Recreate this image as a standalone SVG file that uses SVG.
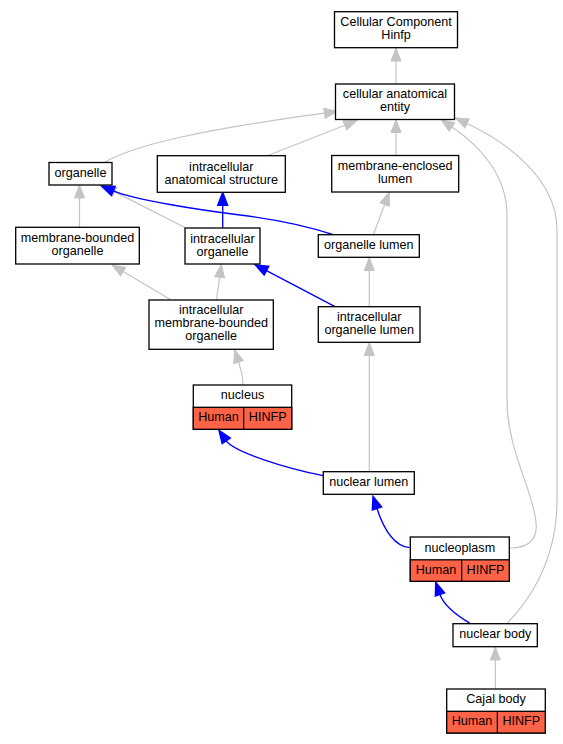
<svg xmlns="http://www.w3.org/2000/svg" width="563" height="744" viewBox="0 0 563 744">
<defs>
<style>
.n rect{fill:#fff;stroke:#000;stroke-width:1.3}
.n .t{fill:#ff6347}
.n line{stroke:#000;stroke-width:1.2}
text{font-family:"Liberation Sans",Arial,sans-serif;font-size:12.6px;fill:#000;text-anchor:middle}
.g{fill:none;stroke:#c4c4c4;stroke-width:1.2;marker-end:url(#ag)}
.b{fill:none;stroke:#0000ff;stroke-width:1.35;marker-end:url(#ab)}
</style>
<marker id="ag" markerUnits="userSpaceOnUse" markerWidth="16" markerHeight="14" refX="0" refY="5" orient="auto" overflow="visible"><path d="M0,0 L13,5 L0,10 Z" fill="#c4c4c4" stroke="#c4c4c4" stroke-width="1"/></marker>
<marker id="ab" markerUnits="userSpaceOnUse" markerWidth="16" markerHeight="14" refX="0" refY="5" orient="auto" overflow="visible"><path d="M0,0 L13,5 L0,10 Z" fill="#0000ff" stroke="#0000ff" stroke-width="1.3"/></marker>
</defs>
<rect width="563" height="744" fill="#fff"/>
<g id="edges">
<path class="g" d="M396,84 L396,61"/>
<path class="g" d="M105,162 C135,145 200,130 324.5,113.2"/>
<path class="g" d="M268,155.5 L344.9,125.3"/>
<path class="g" d="M396,155.3 L396,132.5"/>
<path class="g" d="M510,548 C528,548 538,540 536,522 C533,490 507,450 507,400 L507,215 C507,175 479.5,145.7 452,127"/>
<path class="g" d="M507,623.3 C525,605 557,565 557,500 L557,230 C557,178 505.5,141.7 467,123.5"/>
<path class="g" d="M79.5,227.3 L79.5,198"/>
<path class="g" d="M185,227.5 L114.6,191.9"/>
<path class="g" d="M373.3,234.7 L384.7,204.5"/>
<path class="g" d="M170.3,299.5 L123.2,271.6"/>
<path class="g" d="M216.5,300 L219.6,277.2"/>
<path class="g" d="M369.3,306.7 L369.3,270.5"/>
<path class="g" d="M243,385 C243,375 241,370 238.5,362"/>
<path class="g" d="M369.3,471.7 L369.3,355.5"/>
<path class="g" d="M495.3,689 L495.3,660"/>
<path class="b" d="M333.3,234.7 C310,227 280,220 240,215 C200,210 135,200 113.3,190.9"/>
<path class="b" d="M222.7,228 L222.7,205.3"/>
<path class="b" d="M335,306.7 L266.5,270.7"/>
<path class="b" d="M323.3,475.7 C285,468 234,452 226.3,440.9"/>
<path class="b" d="M409.3,547.7 C395,546 384,530 377,508.5"/>
<path class="b" d="M470,623.3 C456,615 444,606 440,594.5"/>
</g>
<g id="cc_hinfp" class="n"><rect x="334.5" y="11.7" width="123" height="36"/><text x="396" y="26">Cellular Component</text><text x="396" y="39">Hinfp</text></g>
<g id="cellular_anatomical_entity" class="n"><rect x="335.5" y="84" width="119" height="35.5"/><text x="395" y="98.3">cellular anatomical</text><text x="395" y="111.3">entity</text></g>
<g id="organelle" class="n"><rect x="49" y="162.5" width="63" height="22.5"/><text x="80.5" y="176.8">organelle</text></g>
<g id="intracellular_anatomical_structure" class="n"><rect x="157.3" y="155.7" width="128" height="36.6"/><text x="221.3" y="170.5">intracellular</text><text x="221.3" y="183.5">anatomical structure</text></g>
<g id="membrane_enclosed_lumen" class="n"><rect x="331.7" y="155.5" width="127" height="36.5"/><text x="395.2" y="170.3">membrane-enclosed</text><text x="395.2" y="183.3">lumen</text></g>
<g id="membrane_bounded_organelle" class="n"><rect x="15.7" y="227.3" width="123.6" height="36.7"/><text x="77.5" y="242.2">membrane-bounded</text><text x="77.5" y="255.2">organelle</text></g>
<g id="intracellular_organelle" class="n"><rect x="185" y="228" width="75" height="36"/><text x="222.5" y="242.5">intracellular</text><text x="222.5" y="255.5">organelle</text></g>
<g id="organelle_lumen" class="n"><rect x="318.3" y="234.7" width="101" height="22.6"/><text x="368.8" y="249">organelle lumen</text></g>
<g id="intracellular_membrane_bounded_organelle" class="n"><rect x="149" y="300" width="124.3" height="49.3"/><text x="211.2" y="314">intracellular</text><text x="211.2" y="327">membrane-bounded</text><text x="211.2" y="340">organelle</text></g>
<g id="intracellular_organelle_lumen" class="n"><rect x="318.3" y="306.7" width="101.7" height="35.6"/><text x="369.2" y="321">intracellular</text><text x="369.2" y="334">organelle lumen</text></g>
<g id="nucleus" class="n"><rect x="193.3" y="385" width="98.4" height="44.3"/><rect class="t" x="193.3" y="407.3" width="98.4" height="22"/><line x1="243.7" y1="407.3" x2="243.7" y2="429.3"/><text x="242.5" y="399.2">nucleus</text><text x="218.5" y="421.3">Human</text><text x="267.7" y="421.3">HINFP</text></g>
<g id="nuclear_lumen" class="n"><rect x="323.3" y="471.7" width="91" height="22.6"/><text x="368.8" y="486">nuclear lumen</text></g>
<g id="nucleoplasm" class="n"><rect x="410.3" y="537" width="99" height="44.3"/><rect class="t" x="410.3" y="559.8" width="99" height="21.5"/><line x1="461.7" y1="559.8" x2="461.7" y2="581.3"/><text x="459.8" y="551.5">nucleoplasm</text><text x="436" y="573.7">Human</text><text x="485.5" y="573.7">HINFP</text></g>
<g id="nuclear_body" class="n"><rect x="453" y="623.7" width="84.3" height="23"/><text x="495.2" y="638.2">nuclear body</text></g>
<g id="cajal_body" class="n"><rect x="446.7" y="689" width="98.6" height="44"/><rect class="t" x="446.7" y="711.3" width="98.6" height="21.7"/><line x1="497.3" y1="711.3" x2="497.3" y2="733"/><text x="496" y="703.2">Cajal body</text><text x="472" y="725.3">Human</text><text x="521.3" y="725.3">HINFP</text></g>
</svg>
